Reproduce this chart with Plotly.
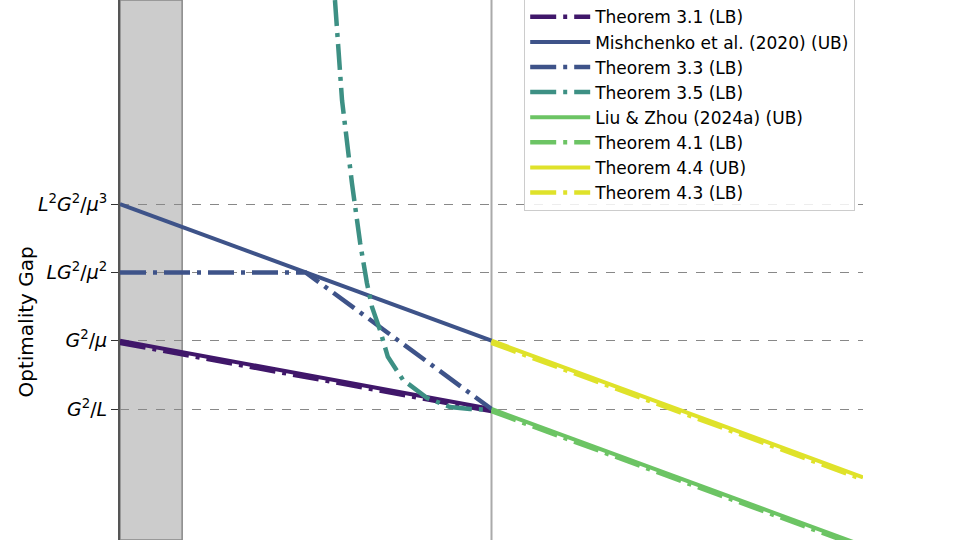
import plotly.graph_objects as go

# x positions (log axis) and gap values
x_left = [1, 10]
ub_32 = [10, 1]
lb_31 = [9.3, 0.93]
mish_ub = [1000, 10]

t33_x = [1, 3.16, 10]
t33_lb = [100, 100, 1]

t35_x = [3.79, 3.96, 4.21, 4.43, 4.62, 4.77, 5.01, 5.26, 5.78, 6.71, 7.73, 8.75, 9.9]
t35_lb = [9.7e5, 3.3e4, 2040, 270, 70, 31, 14.3, 5.8, 2.66, 1.45, 1.07, 1.0, 0.98]

x_right = [10, 100]
liu_ub = [1, 0.01]
t41_lb = [0.93, 0.0093]
t44_ub = [10, 0.1]
t43_lb = [9.3, 0.093]

tick_vals = [1, 10, 100, 1000]
tick_text = ["<i>G</i><sup>2</sup>/<i>L</i>", "<i>G</i><sup>2</sup>/<i>μ</i>",
             "<i>LG</i><sup>2</sup>/<i>μ</i><sup>2</sup>",
             "<i>L</i><sup>2</sup><i>G</i><sup>2</sup>/<i>μ</i><sup>3</sup>"]

purple = "#40176a"
blue = "#3e5389"
teal = "#3d9084"
green = "#6cc464"
yellow = "#dfe22a"
dashdot = "26px,7px,4px,7px"

fig = go.Figure()

def add(x, y, name, color, lb):
    if lb:
        line = dict(color=color, width=4.5, dash=dashdot)
    else:
        line = dict(color=color, width=4)
    fig.add_trace(go.Scatter(x=x, y=y, name=name, mode="lines", line=line))

add(x_left, ub_32, "Theorem 3.2 (UB)", purple, False)
add(x_left, lb_31, "Theorem 3.1 (LB)", purple, True)
add(x_left, mish_ub, "Mishchenko et al. (2020) (UB)", blue, False)
add(t33_x, t33_lb, "Theorem 3.3 (LB)", blue, True)
add(t35_x, t35_lb, "Theorem 3.5 (LB)", teal, True)
add(x_right, liu_ub, "Liu & Zhou (2024a) (UB)", green, False)
add(x_right, t41_lb, "Theorem 4.1 (LB)", green, True)
add(x_right, t44_ub, "Theorem 4.4 (UB)", yellow, False)
add(x_right, t43_lb, "Theorem 4.3 (LB)", yellow, True)

# shaded region and phase boundary
fig.add_shape(type="rect", xref="x", yref="paper", x0=1, x1=1.47, y0=0, y1=1,
              fillcolor="#cccccc", line=dict(color="#888888", width=1.5), layer="below")
fig.add_shape(type="line", xref="x", yref="paper", x0=10, x1=10, y0=0, y1=1,
              line=dict(color="#aaaaaa", width=2), layer="below")

# y-axis title placed by hand, close to the tick labels
fig.add_annotation(text="Optimality Gap", xref="paper", yref="paper",
                   x=-0.127, y=0.404, textangle=-90, showarrow=False,
                   font=dict(size=20), xanchor="center", yanchor="middle")

fig.update_layout(
    width=960, height=540,
    margin=dict(l=120, r=97, t=0, b=0, autoexpand=False),
    plot_bgcolor="white", paper_bgcolor="white",
    font=dict(family="DejaVu Sans", color="black"),
    showlegend=True,
    legend=dict(x=0.544, y=0.609, xanchor="left", yanchor="bottom",
                bgcolor="rgba(255,255,255,0.85)", bordercolor="#cccccc", borderwidth=1,
                font=dict(size=17), itemwidth=60),
)
fig.update_xaxes(type="log", range=[0, 2], showticklabels=False, showgrid=False,
                 zeroline=False, showline=True, linecolor="#555555", linewidth=2, mirror=True)
fig.update_yaxes(type="log", range=[-1.918, 5.988], tickvals=tick_vals, ticktext=tick_text,
                 ticks="outside", ticklen=7, tickcolor="#333333", tickfont=dict(size=19),
                 showgrid=True, gridcolor="#888888", griddash="dash", gridwidth=1,
                 zeroline=False, showline=True, linecolor="#555555", linewidth=2)

fig.write_html("out.html", config={"displayModeBar": False},
               post_script="document.body.style.margin='0';")
